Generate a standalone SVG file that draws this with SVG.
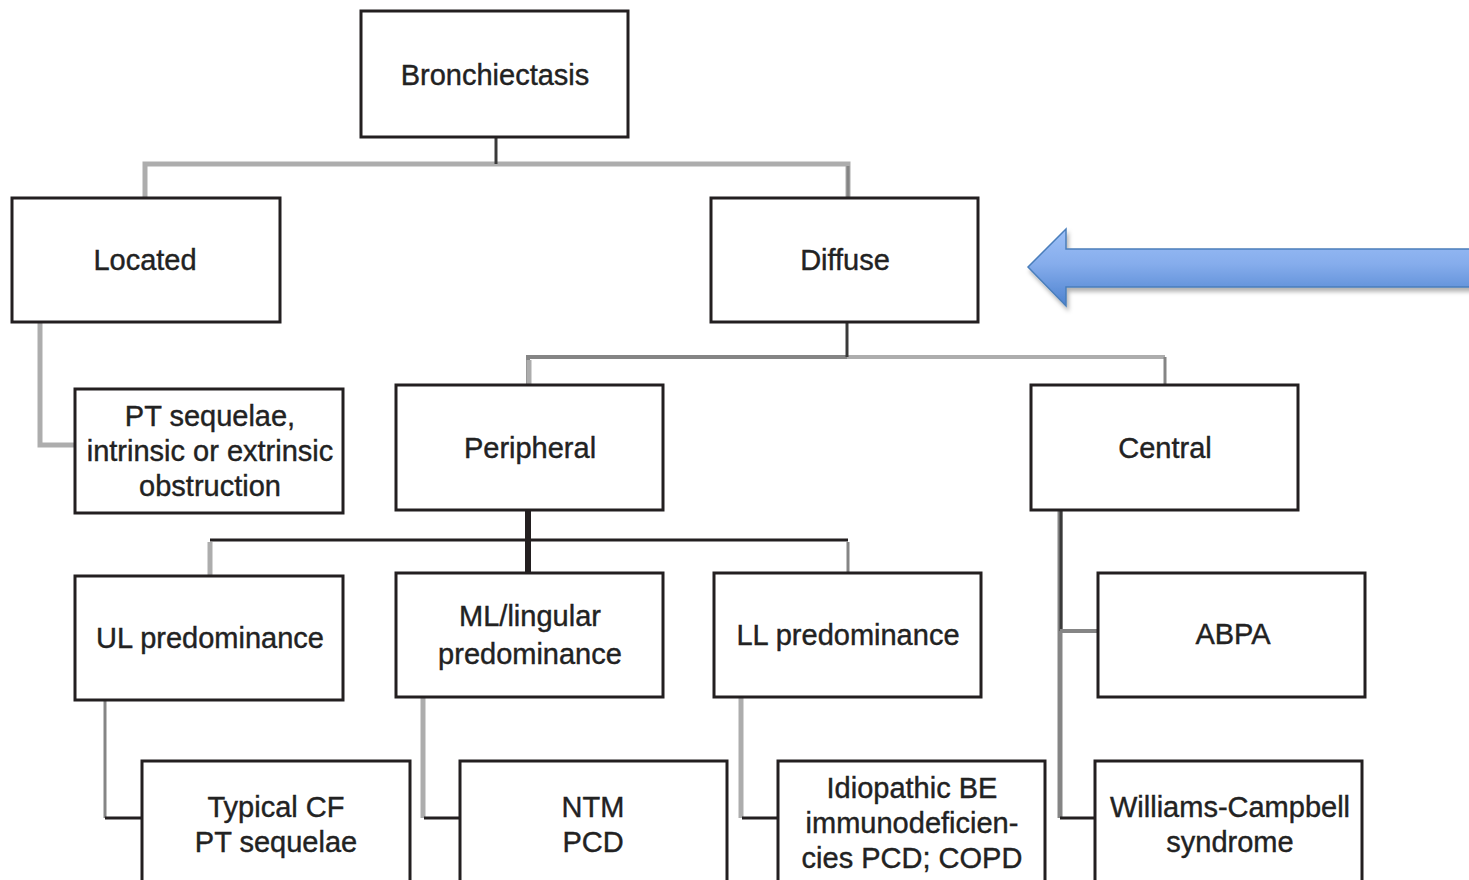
<svg xmlns="http://www.w3.org/2000/svg" width="1469" height="880" viewBox="0 0 1469 880">
  <defs>
    <style>
      .box { fill: #ffffff; stroke: #231f20; stroke-width: 3; }
      .lbl { font-family: "Liberation Sans", Arial, sans-serif; font-size: 29px; fill: #222222; stroke: #222222; stroke-width: 0.4; text-anchor: middle; }
      .gray { fill: none; stroke: #adadad; stroke-width: 5; }
      .mid { fill: none; stroke: #858585; stroke-width: 4; }
      .dark { fill: none; stroke: #3a3a3a; stroke-width: 3; }
      .black { fill: none; stroke: #231f20; stroke-width: 3; }
    </style>
    <linearGradient id="arrowFill" x1="0" y1="0" x2="0" y2="1">
      <stop offset="0" stop-color="#9dc0f7"/>
      <stop offset="0.45" stop-color="#86adec"/>
      <stop offset="1" stop-color="#4d82cf"/>
    </linearGradient>
    <filter id="shadow" x="-5%" y="-30%" width="110%" height="160%">
      <feDropShadow dx="2" dy="4" stdDeviation="2" flood-color="#000" flood-opacity="0.3"/>
    </filter>
  </defs>

  <!-- connectors -->
  <g id="connectors">
    <!-- Bronchiectasis to Located / Diffuse -->
    <path class="gray" d="M145 198 V164 H848 V198"/>
    <path class="dark" d="M496 137 V164"/>
    <path class="mid" style="stroke-width:3" d="M848 166 V198"/>
    <!-- Located to PT sequelae -->
    <path class="gray" d="M40 322 V445 H75"/>
    <!-- Diffuse to Peripheral / Central -->
    <path class="mid" d="M528 385 V357 H847"/>
    <path class="gray" style="stroke-width:4" d="M847 357 H1165"/>
    <path class="mid" style="stroke-width:3" d="M1165 357 V385"/>
    <path class="gray" d="M529 360 V385"/>
    <path class="dark" d="M847 322 V357"/>
    <!-- Peripheral to UL / ML / LL -->
    <path class="black" d="M210 540 H848"/>
    <path class="black" style="stroke-width:6" d="M528 510 V573"/>
    <path class="gray" d="M210 542 V576"/>
    <path class="mid" style="stroke-width:3" d="M848 542 V573"/>
    <!-- Central to ABPA / Williams-Campbell -->
    <path class="mid" style="stroke-width:5" d="M1060 510 V818"/>
    <path class="dark" d="M1061 510 V631"/>
    <path class="mid" d="M1060 631 H1098"/>
    <path class="black" d="M1060 818 H1095"/>
    <!-- UL to Typical CF -->
    <path class="mid" style="stroke-width:3" d="M105 700 V818"/>
    <path class="black" d="M105 818 H142"/>
    <!-- ML to NTM -->
    <path class="gray" d="M423 697 V818"/>
    <path class="black" d="M424 818 H460"/>
    <!-- LL to Idiopathic -->
    <path class="gray" d="M741 697 V818"/>
    <path class="black" d="M742 818 H778"/>
  </g>

  <g id="bronchiectasis">
    <rect class="box" x="361" y="11" width="267" height="126"/>
    <text class="lbl" x="495" y="85">Bronchiectasis</text>
  </g>
  <g id="located">
    <rect class="box" x="12" y="198" width="268" height="124"/>
    <text class="lbl" x="145" y="270">Located</text>
  </g>
  <g id="diffuse">
    <rect class="box" x="711" y="198" width="267" height="124"/>
    <text class="lbl" x="845" y="270">Diffuse</text>
  </g>
  <g id="pt-sequelae">
    <rect class="box" x="75" y="389" width="268" height="124"/>
    <text class="lbl" x="210" y="426">PT sequelae,</text>
    <text class="lbl" x="210" y="461">intrinsic or extrinsic</text>
    <text class="lbl" x="210" y="496">obstruction</text>
  </g>
  <g id="peripheral">
    <rect class="box" x="396" y="385" width="267" height="125"/>
    <text class="lbl" x="530" y="458">Peripheral</text>
  </g>
  <g id="central">
    <rect class="box" x="1031" y="385" width="267" height="125"/>
    <text class="lbl" x="1165" y="458">Central</text>
  </g>
  <g id="ul-predominance">
    <rect class="box" x="75" y="576" width="268" height="124"/>
    <text class="lbl" x="210" y="648">UL predominance</text>
  </g>
  <g id="ml-lingular">
    <rect class="box" x="396" y="573" width="267" height="124"/>
    <text class="lbl" x="530" y="626">ML/lingular</text>
    <text class="lbl" x="530" y="664">predominance</text>
  </g>
  <g id="ll-predominance">
    <rect class="box" x="714" y="573" width="267" height="124"/>
    <text class="lbl" x="848" y="645">LL predominance</text>
  </g>
  <g id="abpa">
    <rect class="box" x="1098" y="573" width="267" height="124"/>
    <text class="lbl" x="1233" y="644">ABPA</text>
  </g>
  <g id="typical-cf">
    <rect class="box" x="142" y="761" width="268" height="140"/>
    <text class="lbl" x="276" y="817">Typical CF</text>
    <text class="lbl" x="276" y="852">PT sequelae</text>
  </g>
  <g id="ntm-pcd">
    <rect class="box" x="460" y="761" width="267" height="140"/>
    <text class="lbl" x="593" y="817">NTM</text>
    <text class="lbl" x="593" y="852">PCD</text>
  </g>
  <g id="idiopathic">
    <rect class="box" x="778" y="761" width="267" height="140"/>
    <text class="lbl" x="912" y="798">Idiopathic BE</text>
    <text class="lbl" x="912" y="833">immunodeficien-</text>
    <text class="lbl" x="912" y="868">cies PCD; COPD</text>
  </g>
  <g id="williams-campbell">
    <rect class="box" x="1095" y="761" width="267" height="140"/>
    <text class="lbl" x="1230" y="817">Williams-Campbell</text>
    <text class="lbl" x="1230" y="852">syndrome</text>
  </g>

  <!-- block arrow pointing at the Diffuse node -->
  <g id="pointer-arrow">
    <path d="M1028 267 L1066 229 V249 H1472 V287 H1066 V306 Z" fill="url(#arrowFill)" stroke="#4a7ebb" stroke-width="1.5" filter="url(#shadow)"/>
  </g>
</svg>
